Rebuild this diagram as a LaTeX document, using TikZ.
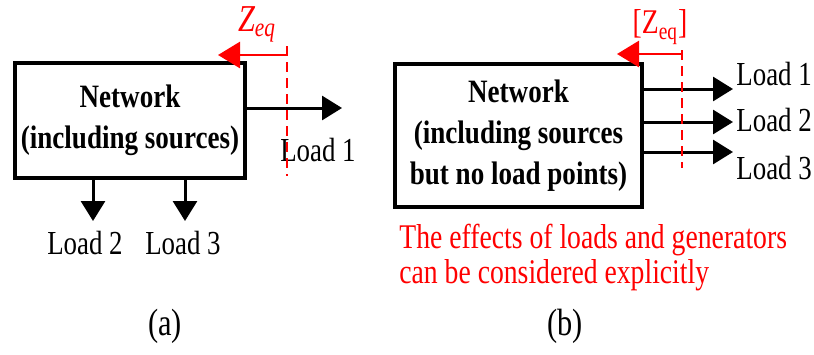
\documentclass[tikz,border=0pt]{standalone}
\usepackage{fontspec}
\setmainfont{Liberation Serif}[FakeStretch=0.8]
\newfontfamily\netfam{Liberation Serif}[FakeStretch=0.83]
\usepackage{xcolor}
\usepackage{tikz}
\usetikzlibrary{arrows.meta,calc,positioning}
\newcommand{\netfont}{\netfam\fontsize{16.3pt}{20.5pt}\selectfont\bfseries}
\newcommand{\loadfont}{\fontsize{16.8pt}{17pt}\selectfont}
\newcommand{\notefont}{\fontsize{17.3pt}{17.5pt}\selectfont}
\newcommand{\capfont}{\fontsize{19pt}{20pt}\selectfont}
\tikzset{
  netbox/.style={draw, line width=1.7pt, inner sep=0pt, align=center, font=\netfont},
  loadarr/.style={-{Triangle[length=10pt,width=12pt]}, line width=1.5pt},
  zarr/.style={-{Triangle[length=11pt,width=13pt]}, line width=1.4pt, red},
  cutline/.style={red, line width=1.1pt, dash pattern=on 5pt off 3pt},
  lbl/.style={inner sep=0pt, font=\loadfont}
}
\begin{document}
\begin{tikzpicture}[x=0.5pt,y=-0.5pt]
  \useasboundingbox (0,0) rectangle (814,354);
  % (a)
  \node[netbox, minimum width=115pt, minimum height=57.5pt] (netA) at (130,120.5)
    {Network\\(including sources)};
  \coordinate (t1a) at (342,108);
  \coordinate (t2a) at (93,221);
  \coordinate (t3a) at (185,221);
  \draw[loadarr] (netA.east |- t1a) -- (t1a);
  \draw[loadarr] (netA.south -| t2a) -- (t2a);
  \draw[loadarr] (netA.south -| t3a) -- (t3a);
  \node[lbl] (ld1a) at (318,150) {Load 1};
  \node[lbl] (ld2a) at (85,243) {Load 2};
  \node[lbl] (ld3a) at (183,243) {Load 3};
  \coordinate (cutAtop) at (287,46);
  \coordinate (cutAbot) at (287,176);
  \coordinate (zAtip) at (218,55);
  \draw[cutline] (cutAtop) -- (cutAbot);
  \draw[zarr] (cutAtop |- zAtip) -- (zAtip);
  \node[lbl, red, font=\capfont] (zA) at (257,24) {\itshape Z\textsubscript{eq}};
  \node[lbl, font=\capfont] (capA) at (165,326) {(a)};
  % (b)
  \node[netbox, minimum width=123.5pt, minimum height=71.5pt] (netB) at (518.5,135.5)
    {Network\\(including sources\\but no load points)};
  \foreach \i/\yy/\ly in {1/89/74, 2/122/120, 3/152/168} {
    \coordinate (t\i b) at (733,\yy);
    \draw[loadarr] (netB.east |- t\i b) -- (t\i b);
    \node[lbl, anchor=west] (ld\i b) at (736,\ly) {Load \i};
  }
  \coordinate (cutBtop) at (682,50);
  \coordinate (cutBbot) at (682,168);
  \coordinate (zBtip) at (617,54);
  \draw[cutline] (cutBtop) -- (cutBbot);
  \draw[zarr] (cutBtop |- zBtip) -- (zBtip);
  \node[lbl, red, font=\notefont] (zB) at (660,27) {[Z\textsubscript{eq}]};
  \node[lbl, red, font=\notefont, align=left, anchor=west] (note) at (399,258)
    {The effects of loads and generators\\can be considered explicitly};
  \node[lbl, font=\capfont] (capB) at (565,326) {(b)};
\end{tikzpicture}
\end{document}
